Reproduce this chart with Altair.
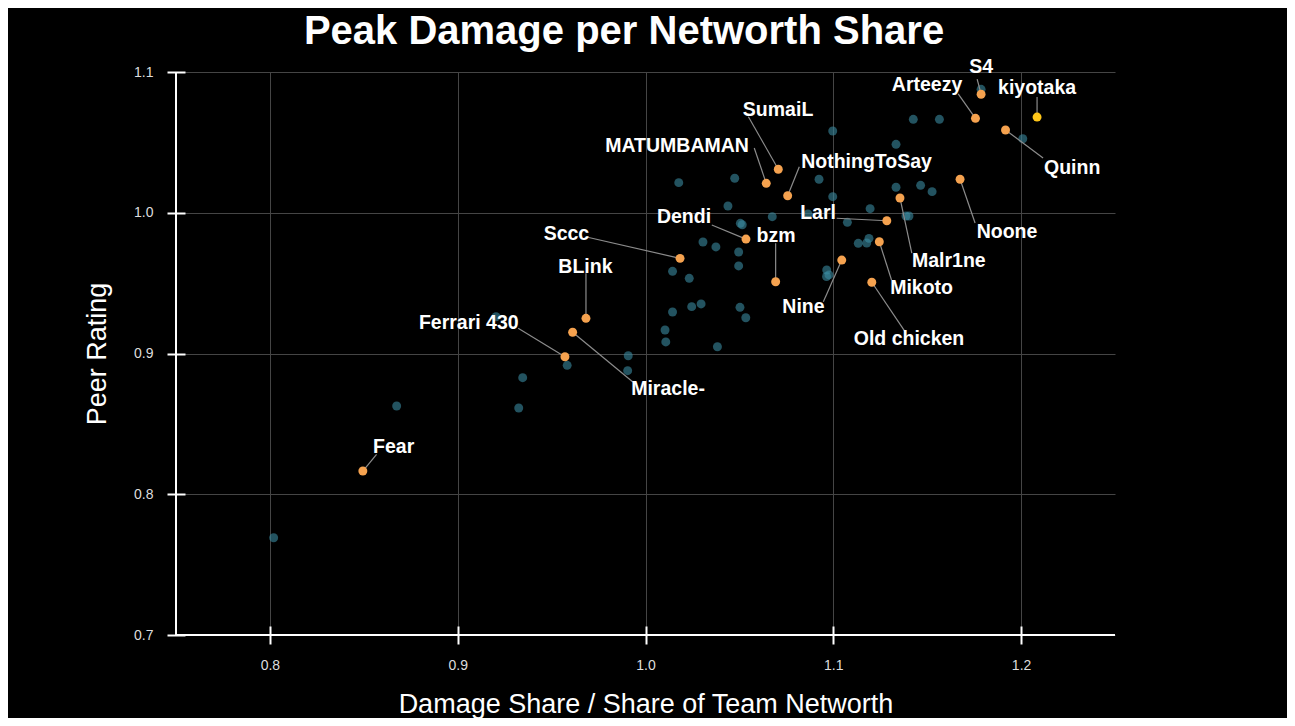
import altair as alt
import pandas as pd

# ---- background players (teal) ----
teal_x = [1.1787, 1.1426, 1.1565, 1.0997, 1.2009, 1.1334, 1.0177, 1.0475, 1.0924, 1.1334,
          1.1465, 1.1526, 1.0997, 1.0439, 1.0675, 1.1196, 1.1075, 1.0505, 1.0515, 1.1387,
          1.1403, 1.0865, 1.0306, 1.0375, 1.0496, 1.1133, 1.1178, 1.1190, 1.0496, 1.0144,
          1.0233, 1.0965, 1.0977, 1.0964, 1.0144, 1.0246, 1.0296, 1.0503, 1.0534, 1.0104,
          1.0108, 1.0383, 0.9908, 0.9905, 0.9583, 0.9346, 0.9325, 0.8675, 0.9204, 0.8020]
teal_y = [1.0877, 1.0664, 1.0664, 1.0581, 1.0526, 1.0486, 1.0214, 1.0245, 1.0238, 1.0181,
          1.0195, 1.0150, 1.0114, 1.0048, 0.9972, 1.0029, 0.9932, 0.9925, 0.9915, 0.9977,
          0.9977, 0.9992, 0.9792, 0.9757, 0.9721, 0.9783, 0.9785, 0.9818, 0.9622, 0.9584,
          0.9534, 0.9593, 0.9558, 0.9547, 0.9295, 0.9333, 0.9352, 0.9328, 0.9254, 0.9167,
          0.9082, 0.9048, 0.8984, 0.8878, 0.8916, 0.8828, 0.8613, 0.8627, 0.9261, 0.7691]

# ---- highlighted players ----
hl_names = ["S4", "Arteezy", "kiyotaka", "Quinn", "SumaiL", "MATUMBAMAN", "NothingToSay",
            "Noone", "Malr1ne", "Larl", "Dendi", "bzm", "Sccc", "Mikoto", "Nine",
            "Old chicken", "BLink", "Miracle-", "Ferrari 430", "Fear"]
hl_x = [1.1787, 1.1757, 1.2085, 1.1917, 1.0707, 1.0643, 1.0757, 1.1675, 1.1355, 1.1285,
        1.0535, 1.0693, 1.0184, 1.1245, 1.1045, 1.1205, 0.9683, 0.9612, 0.9571, 0.8495]
hl_y = [1.0842, 1.0671, 1.0680, 1.0588, 1.0309, 1.0209, 1.0121, 1.0238, 1.0105, 0.9943,
        0.9813, 0.9510, 0.9676, 0.9794, 0.9664, 0.9506, 0.9250, 0.9151, 0.8977, 0.8165]
hl_group = ["other"] * 20
hl_group[2] = "top"

# label anchor (text centre) and leader-line end, in data units
label_x = [1.1787, 1.1499, 1.2085, 1.2272, 1.0706, 1.0168, 1.1177, 1.1925, 1.1615, 1.0919,
           1.0205, 1.0695, 0.9579, 1.1470, 1.0841, 1.1403, 0.9680, 1.0120, 0.9059, 0.8659]
label_y = [1.1036, 1.0908, 1.0886, 1.0318, 1.0730, 1.0474, 1.0361, 0.9863, 0.9657, 1.0000,
           0.9972, 0.9835, 0.9849, 0.9463, 0.9333, 0.9103, 0.9612, 0.8748, 0.9215, 0.8338]
leader_x = [1.1766, 1.1665, 1.2085, 1.2117, 1.0548, 1.0579, 1.0819, 1.1755, 1.1418, 1.1018,
            1.0353, 1.0693, 0.9692, 1.1310, 1.0947, 1.1382, 0.9683, 0.9933, 0.9322, 0.8568]
leader_y = [1.0950, 1.0844, 1.0822, 1.0389, 1.0682, 1.0460, 1.0327, 0.9927, 0.9714, 0.9961,
            0.9913, 0.9783, 0.9826, 0.9522, 0.9368, 0.9155, 0.9570, 0.8797, 0.9179, 0.8284]

x_ticks = [0.8, 0.9, 1.0, 1.1, 1.2]
y_ticks = [0.7, 0.8, 0.9, 1.0, 1.1]

chart_title = "Peak Damage per Networth Share"

teal = pd.DataFrame({"x": teal_x, "y": teal_y})
hl = pd.DataFrame({"name": hl_names, "x": hl_x, "y": hl_y, "group": hl_group,
                   "lx": label_x, "ly": label_y, "ex": leader_x, "ey": leader_y})

FONT = "Liberation Sans"
W, H = 939, 563

xscale = alt.Scale(domain=[0.75, 1.25], nice=False, zero=False)
yscale = alt.Scale(domain=[0.7, 1.1], nice=False, zero=False)

common_axis = dict(
    offset=-9, tickSize=18, tickWidth=2, tickColor="white", domain=False,
    grid=True, gridColor="#454545", gridWidth=1,
    labelColor="#dddddd", labelFontSize=14, labelFont=FONT, labelPadding=14,
    labelFlush=False, labelOverlap=False, format=".1f",
    titleColor="white", titleFontSize=27, titleFontWeight="normal", titleFont=FONT,
    titleAlign="center", titleBaseline="middle", zindex=0,
)

x_axis = alt.Axis(values=x_ticks, title="Damage Share / Share of Team Networth",
                  titleX=W / 2, titleY=78, **common_axis)
y_axis = alt.Axis(values=y_ticks, title="Peer Rating",
                  titleX=-88, titleY=H / 2, titleAngle=270, **common_axis)

base_teal = alt.Chart(teal).mark_circle(size=80, color="#3a8aa0", opacity=0.6).encode(
    x=alt.X("x:Q", scale=xscale, axis=x_axis),
    y=alt.Y("y:Q", scale=yscale, axis=y_axis),
)

frame_df = pd.DataFrame({"k": [0]})
left_line = alt.Chart(frame_df).mark_rule(color="white", strokeWidth=2).encode(
    x=alt.value(0), y=alt.value(0), y2=alt.value("height"))
bottom_line = alt.Chart(frame_df).mark_rule(color="white", strokeWidth=2).encode(
    x=alt.value(0), x2=alt.value("width"), y=alt.value("height"))

title_text = alt.Chart(frame_df).mark_text(
    text=chart_title, font=FONT, fontSize=40, fontWeight="bold", color="white",
    align="center", baseline="alphabetic").encode(
    x=alt.value(W / 2 - 21.5), y=alt.value(-28))

leaders = alt.Chart(hl).mark_rule(color="#8c8c8c", strokeWidth=1.2).encode(
    x=alt.X("ex:Q", scale=xscale), y=alt.Y("ey:Q", scale=yscale),
    x2="x:Q", y2="y:Q",
)

hl_points = alt.Chart(hl).mark_circle(size=80, opacity=1).encode(
    x=alt.X("x:Q", scale=xscale), y=alt.Y("y:Q", scale=yscale),
    color=alt.Color("group:N", scale=alt.Scale(domain=["other", "top"],
                                               range=["#f5a24f", "#ffc619"]), legend=None),
)

labels = alt.Chart(hl).mark_text(font=FONT, fontSize=19.5, fontWeight="bold", color="white",
                                 align="center", baseline="middle").encode(
    x=alt.X("lx:Q", scale=xscale), y=alt.Y("ly:Q", scale=yscale), text="name:N",
)

chart = alt.layer(base_teal, leaders, hl_points, labels, left_line, bottom_line,
                  title_text).properties(
    width=W, height=H,
    autosize=alt.AutoSizeParams(type="none"),
    padding={"left": 168, "top": 64, "right": 172, "bottom": 83},
    background="black",
).configure_view(stroke=None)

chart.save("out.html", embed_options={"renderer": "svg", "actions": False})
